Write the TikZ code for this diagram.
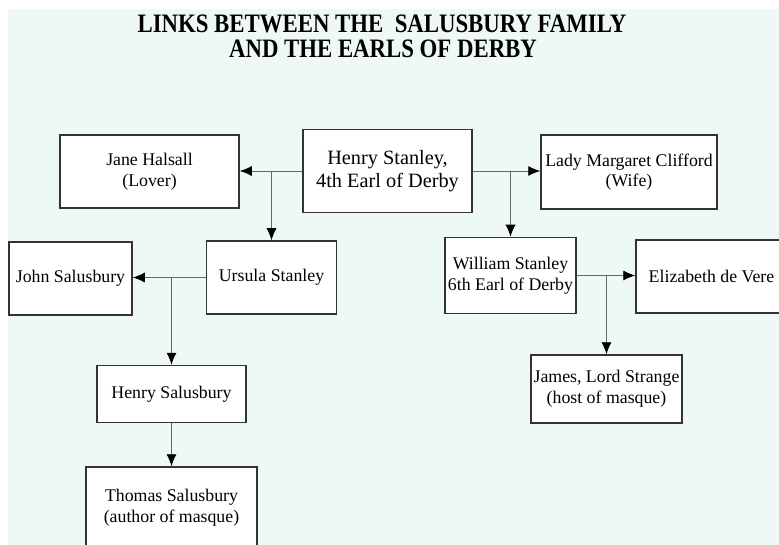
\documentclass[tikz,border=0pt]{standalone}
\usepackage{fontspec}
\setmainfont{Liberation Serif}
\usetikzlibrary{arrows.meta}

\definecolor{mintbg}{HTML}{EEF8F7}

\tikzstyle{famnode}=[rectangle,
                         draw=black!80,
                         line width=1.5pt,
                         fill=white,
                         inner sep=0pt,
                         align=center,
                         font=\fontsize{17.8}{20.6}\selectfont]
\tikzstyle{link}=[draw=black!60, line width=0.9pt]
\tikzstyle{linkto}=[link, -{Latex[length=12pt,width=10pt,color=black]}]
\tikzstyle{titletext}=[inner sep=0pt, anchor=base,
                         font=\bfseries\fontsize{26.6}{25}\selectfont]

\begin{document}
\begin{tikzpicture}[x=1pt,y=-1pt]
    \useasboundingbox (0,0) rectangle (779,545);
    \clip (0,0) rectangle (779,545);
    \fill[white] (0,0) rectangle (779,545);
    \fill[mintbg] (8,9) rectangle (779,545);

    % title
    \node [titletext] (title1) at (382,33) {\scalebox{.857}[1]{LINKS BETWEEN THE\ \ SALUSBURY FAMILY}};
    \node [titletext] (title2) at (383,58) {\scalebox{.857}[1]{AND THE EARLS OF DERBY}};

    % people
    \node [famnode, minimum width=169pt, minimum height=83pt,
           font=\fontsize{20.3}{23.3}\selectfont] (henry) at (387.5,171) {Henry Stanley,\\4th Earl of Derby};
    \node [famnode, minimum width=179pt, minimum height=73pt] (jane) at (149.5,171.5) {Jane Halsall\\(Lover)};
    \node [famnode, minimum width=176pt, minimum height=74pt] (lady) at (629,172) {Lady Margaret Clifford\\(Wife)};
    \node [famnode, minimum width=130pt, minimum height=73pt] (ursula) at (271.5,277.5) {Ursula Stanley};
    \node [famnode, minimum width=123pt, minimum height=73pt] (john) at (70.5,278.5) {John Salusbury};
    \node [famnode, minimum width=131pt, minimum height=76pt] (william) at (510.5,275.5) {William Stanley\\6th Earl of Derby};
    \node [famnode, minimum width=151pt, minimum height=73pt] (elizabeth) at (711.5,276.5) {Elizabeth de Vere};
    \node [famnode, minimum width=149pt, minimum height=57pt] (henrys) at (171.5,394) {Henry Salusbury};
    \node [famnode, minimum width=171pt, minimum height=82pt] (thomas) at (171.5,508) {Thomas Salusbury\\(author of masque)};
    \node [famnode, minimum width=151pt, minimum height=68pt] (james) at (606.5,389) {James, Lord Strange\\(host of masque)};

    % branch points
    \coordinate (hj) at (271.5,171);
    \coordinate (hl) at (510.5,171);
    \coordinate (uj) at (171.5,278);
    \coordinate (we) at (606.5,275.5);

    % links
    \draw [linkto] (henry.west) -- (henry.west -| jane.east);
    \draw [linkto] (henry.east) -- (henry.east -| lady.west);
    \draw [linkto] (hj) -- (ursula);
    \draw [linkto] (hl) -- (william);
    \draw [linkto] (ursula.west) -- (ursula.west -| john.east);
    \draw [linkto] (uj) -- (henrys);
    \draw [linkto] (henrys) -- (thomas);
    \draw [linkto] (william.east) -- (william.east -| elizabeth.west);
    \draw [linkto] (we) -- (james);
\end{tikzpicture}
\end{document}
